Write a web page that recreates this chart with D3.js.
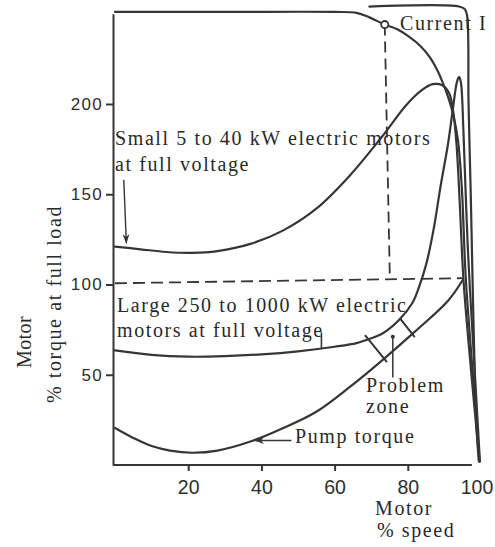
<!DOCTYPE html>
<html>
<head>
<meta charset="utf-8">
<script src="https://cdn.jsdelivr.net/npm/d3@7"></script>
<style>
  html, body { margin: 0; padding: 0; background: #fff; }
  svg { display: block; }
  .serif { font-family: "Liberation Serif", "Times New Roman", serif; font-size: 20px; letter-spacing: 1.6px; fill: #2a2a2a; }
  .tick text { font-family: "Liberation Sans", Arial, sans-serif; fill: #2e2e2e; }
</style>
</head>
<body>
<svg id="chart" width="495" height="547"></svg>
<script>
// Motor speed (% of synchronous) and torque / current (% of full load)
const speedSmall  = [0, 7, 14, 21, 28, 37, 46, 55, 64, 73, 79.6, 84, 86.8, 89.3, 91.3, 92.4, 93.3, 94.2, 95.2, 97.3, 99.6];
const torqueSmall = [121, 119.5, 118, 117.5, 118.5, 122.5, 130, 142, 160, 182, 199.5, 208, 211, 210.5, 206, 196, 178, 145, 103, 52, 2];

const speedLarge  = [0, 10, 20, 30, 40, 50, 60, 66, 68.7, 73.2, 77.6, 81.2, 83.1, 85, 87, 89, 91, 92.3, 93.4, 94, 94.5, 95.2, 96.4, 98.2, 99.7];
const torqueLarge = [63.5, 61, 60, 60.3, 61.3, 63, 65.5, 67.5, 69.3, 73, 80.3, 89.6, 98.8, 111, 130, 155, 178, 197, 212, 215, 212, 185, 120, 55, 2];

const speedPump   = [0, 5, 10, 15, 21, 28, 37, 46, 55, 64, 73, 82, 91, 95];
const torquePump  = [20.5, 15, 10.5, 8, 6.8, 8, 13, 20.5, 29.5, 43, 58, 74, 91, 102.5];

const speedCurrent = [0, 30, 60, 66, 69.5, 73.7, 77, 80.5, 83.5, 86, 88, 89.6, 91, 92.3, 93.7, 94.8, 95.8, 97.7, 99.6];
const current      = [251, 251, 251, 250.5, 248, 244, 241.5, 237, 232, 226, 219, 211.6, 204, 195, 180, 152, 105, 52, 2];

// upper border with rounded corner, running down into the synchronous-speed drop
const borderSpeed = [69.5, 94, 95.6, 96.2, 96.6, 97.2, 97.7, 98.3, 98.8, 99.4];
const borderValue = [254, 254, 252.5, 249, 200, 150, 102, 50, 20, 2];

// full-load reference lines and the operating point of the current curve
const fullLoadSpeed = [0, 95];
const fullLoadValue = [100.7, 103.5];
const markerSpeed = [73.7, 75.1];
const markerValue = [244, 102.5];

// problem-zone cross marks (two ends each) and leader
const zoneMarkSpeed = [[68.3, 74.3], [77.8, 81.9]];
const zoneMarkValue = [[72, 57], [81.4, 70.9]];
const zoneLeaderSpeed = [75.9, 75.9];
const zoneLeaderValue = [71, 48.5];

const xTicks = [20, 40, 60, 80, 100];
const yTicks = [50, 100, 150, 200];

const svg = d3.select("#chart");
const x = d3.scaleLinear().domain([0, 100]).range([115, 481]);
const y = d3.scaleLinear().domain([0, 250]).range([465, 13.75]);

const ink = "#363636";
const pts = (xs, ys) => xs.map((s, i) => [s, ys[i]]);
const line = d3.line().x(d => x(d[0])).y(d => y(d[1])).curve(d3.curveCatmullRom.alpha(0.5));
const straight = d3.line().x(d => x(d[0])).y(d => y(d[1]));

// arrowhead marker
svg.append("defs").append("marker")
  .attr("id", "arrow").attr("viewBox", "0 0 10 10")
  .attr("refX", 9).attr("refY", 5)
  .attr("markerWidth", 7).attr("markerHeight", 7)
  .attr("orient", "auto-start-reverse")
  .append("path").attr("d", "M0,1.5 L10,5 L0,8.5 L3,5 Z").attr("fill", ink);

// axes
const yAxis = svg.append("g")
  .attr("transform", `translate(${x(0) - 2},0)`)
  .call(d3.axisLeft(y).tickValues(yTicks).tickSize(7).tickSizeOuter(0).tickPadding(3));
yAxis.selectAll("text").style("font-size", "17px").style("letter-spacing", "1.3px");

const xAxis = svg.append("g")
  .attr("transform", `translate(0,${y(0)})`)
  .call(d3.axisBottom(x).tickValues(xTicks).tickSize(6).tickSizeOuter(0).tickPadding(9));
xAxis.selectAll("text").style("font-size", "19.5px");
const lastTick = xAxis.selectAll(".tick").filter(d => d === 100);
lastTick.select("line").remove();
lastTick.select("text").attr("dx", -4.5);
xAxis.select(".domain").attr("d", `M${x(0) - 2},0H${x(97.5)}`);

svg.selectAll(".domain, .tick line").attr("stroke", ink).attr("stroke-width", 2);

// dashed reference lines
svg.append("path").attr("d", straight(pts(fullLoadSpeed, fullLoadValue)))
  .attr("fill", "none").attr("stroke", ink).attr("stroke-width", 1.8).attr("stroke-dasharray", "12,6");
svg.append("path").attr("d", straight(pts(markerSpeed, markerValue)))
  .attr("fill", "none").attr("stroke", ink).attr("stroke-width", 1.8).attr("stroke-dasharray", "11,6");

// curves
const curves = [
  [speedCurrent, current],
  [borderSpeed, borderValue],
  [speedSmall, torqueSmall],
  [speedLarge, torqueLarge],
  [speedPump, torquePump]
];
svg.append("g").selectAll("path").data(curves).join("path")
  .attr("d", c => line(pts(c[0], c[1])))
  .attr("fill", "none").attr("stroke", ink).attr("stroke-width", 2.2)
  .attr("stroke-linejoin", "round").attr("stroke-linecap", "round");

// operating-point circle on the current curve
svg.append("circle").attr("cx", x(markerSpeed[0])).attr("cy", y(markerValue[0])).attr("r", 3.6)
  .attr("fill", "#fff").attr("stroke", ink).attr("stroke-width", 1.8);

// problem zone marks and leader
zoneMarkSpeed.forEach((s, i) => {
  svg.append("path").attr("d", straight(pts(s, zoneMarkValue[i])))
    .attr("stroke", ink).attr("stroke-width", 2).attr("fill", "none");
});
svg.append("path").attr("d", straight(pts(zoneLeaderSpeed, zoneLeaderValue)))
  .attr("stroke", ink).attr("stroke-width", 1.5);
svg.append("circle").attr("cx", x(zoneLeaderSpeed[0])).attr("cy", y(zoneLeaderValue[0])).attr("r", 2).attr("fill", ink);

// label leaders
svg.append("path").attr("d", straight([[2.4, 158], [3.1, 123]]))
  .attr("stroke", ink).attr("stroke-width", 1.4).attr("marker-end", "url(#arrow)");
svg.append("path").attr("d", straight([[56.4, 73.5], [56.4, 64.8]]))
  .attr("stroke", ink).attr("stroke-width", 1.6);
svg.append("path").attr("d", straight([[48.2, 13.6], [38.3, 13.6]]))
  .attr("stroke", ink).attr("stroke-width", 1.4).attr("marker-end", "url(#arrow)");

// text labels
const labels = [
  ["Small 5 to 40 kW electric motors", 115, 145],
  ["at full voltage", 115, 171],
  ["Large 250 to 1000 kW electric", 117, 312],
  ["motors at full voltage", 117, 337],
  ["Current I", 400, 30],
  ["Problem", 366, 392],
  ["zone", 366, 413],
  ["Pump torque", 295, 443],
  ["Motor", 375, 515],
  ["% speed", 377, 537]
];
svg.append("g").selectAll("text").data(labels).join("text")
  .attr("class", "serif").attr("x", d => d[1]).attr("y", d => d[2]).text(d => d[0]);

svg.append("text").attr("class", "serif")
  .attr("transform", "translate(31,368) rotate(-90)").style("letter-spacing", "0.4px").text("Motor");
svg.append("text").attr("class", "serif")
  .attr("transform", "translate(61,403) rotate(-90)").text("% torque at full load");
</script>
</body>
</html>
